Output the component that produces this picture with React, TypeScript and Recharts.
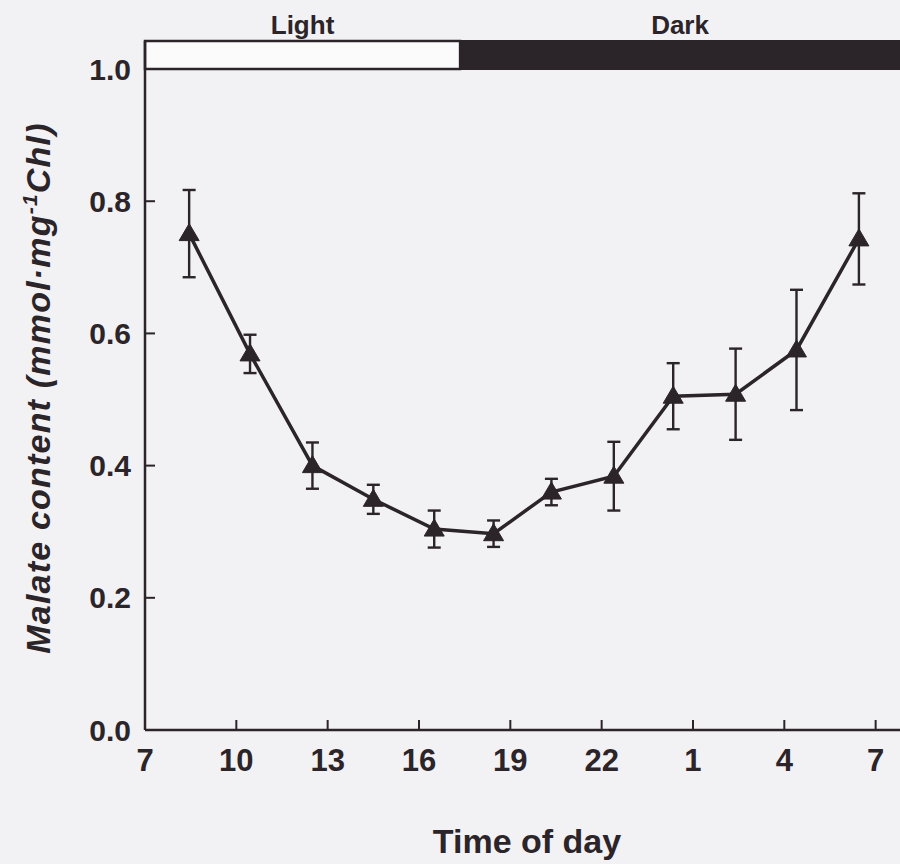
import React from 'react';
import { LineChart, Line, XAxis, YAxis, ErrorBar, ReferenceArea, Label } from 'recharts';

// Time of day (hours; values past 24 are the following morning)
const hours = [8.45, 10.45, 12.5, 14.5, 16.5, 18.45, 20.35, 22.4, 24.35, 26.4, 28.4, 30.45];
// Malate content (mmol·mg-1 Chl)
const malate = [0.751, 0.569, 0.4, 0.349, 0.304, 0.297, 0.36, 0.384, 0.505, 0.508, 0.575, 0.743];
// Error (±)
const errors = [0.066, 0.029, 0.035, 0.022, 0.028, 0.02, 0.02, 0.052, 0.05, 0.069, 0.091, 0.069];

const xTicks = [7, 10, 13, 16, 19, 22, 25, 28, 31];
const yTicks = [0, 0.2, 0.4, 0.6, 0.8, 1.0];
const rightTicks = [0.2, 0.4, 0.6, 0.8];

const xStart = 7;
const darkStart = 17.35;
const xEnd = 31.8;
const barBottom = 1.0;
const barTop = 1.0424;

const INK = '#2b2428';
const BG = '#f2f1f3';
const FONT = '"Liberation Sans", Arial, Helvetica, sans-serif';

const data = hours.map((h, i) => ({ hour: h, malate: malate[i], err: errors[i] }));

const Triangle = (props: any) => {
  const { cx, cy, index } = props;
  if (cx == null || cy == null) return <g key={`t-${index}`} />;
  const d = `M ${cx} ${cy - 10} L ${cx + 10} ${cy + 7} L ${cx - 10} ${cy + 7} Z`;
  return <path key={`t-${index}`} d={d} fill={INK} stroke={INK} strokeWidth={1} />;
};

const YTitle = () => {
  const cx = 50;
  const cy = 388;
  return (
    <text
      x={cx}
      y={cy}
      transform={`rotate(-90 ${cx} ${cy})`}
      textAnchor="middle"
      fill={INK}
      fontSize={34}
      letterSpacing={1.2}
      fontWeight="bold"
      fontStyle="italic"
      fontFamily={FONT}
    >
      Malate content (mmol·mg
      <tspan dy={-13} fontSize={21}>-1</tspan>
      <tspan dy={13} fontSize={34}>Chl)</tspan>
    </text>
  );
};

const XTitle = () => (
  <text x={527} y={853} textAnchor="middle" fill={INK} fontSize={34} fontWeight="bold" fontFamily={FONT}>
    Time of day
  </text>
);

export default function App() {
  return (
    <div style={{ position: 'fixed', left: 0, top: 0, width: 900, height: 864, overflow: 'hidden', background: BG }}>
      <LineChart width={900} height={864} data={data} margin={{ top: 41, right: 0, bottom: 0, left: 0 }}>
        <XAxis
          dataKey="hour"
          type="number"
          domain={[xStart, xEnd]}
          allowDataOverflow
          ticks={xTicks}
          interval={0}
          tickFormatter={(v: number) => String(v > 24 ? v - 24 : v)}
          height={134}
          tickSize={-10}
          tickMargin={29}
          axisLine={{ stroke: INK, strokeWidth: 2.5 }}
          tickLine={{ stroke: INK, strokeWidth: 2 }}
          tick={{ fill: INK, fontSize: 31, fontWeight: 'bold', fontFamily: FONT }}
        >
          <Label content={<XTitle />} />
        </XAxis>
        <YAxis
          type="number"
          domain={[0, barTop]}
          allowDataOverflow
          ticks={yTicks}
          interval={0}
          tickFormatter={(v: number) => v.toFixed(1)}
          width={145}
          tickSize={-10}
          tickMargin={24}
          axisLine={{ stroke: INK, strokeWidth: 2.5 }}
          tickLine={{ stroke: INK, strokeWidth: 2 }}
          tick={{ fill: INK, fontSize: 30, fontWeight: 'bold', fontFamily: FONT }}
        >
          <Label content={<YTitle />} />
        </YAxis>
        <YAxis
          yAxisId="r"
          orientation="right"
          type="number"
          domain={[0, barTop]}
          allowDataOverflow
          ticks={rightTicks}
          interval={0}
          width={0}
          tickSize={-8}
          axisLine={false}
          tick={false}
          tickLine={{ stroke: INK, strokeWidth: 2 }}
        />
        <ReferenceArea
          x1={xStart}
          x2={darkStart}
          y1={barBottom}
          y2={barTop}
          fill="#fbfbfb"
          fillOpacity={1}
          stroke={INK}
          strokeWidth={2.5}
          label={{ value: 'Light', position: 'top', offset: 7, fill: INK, fontSize: 26, fontWeight: 'bold', fontFamily: FONT }}
        />
        <ReferenceArea
          x1={darkStart}
          x2={xEnd}
          y1={barBottom}
          y2={barTop}
          fill={INK}
          fillOpacity={1}
          stroke={INK}
          strokeWidth={2}
          label={{ value: 'Dark', position: 'top', offset: 7, fill: INK, fontSize: 26, fontWeight: 'bold', fontFamily: FONT }}
        />
        <Line
          dataKey="malate"
          stroke={INK}
          strokeWidth={3.5}
          dot={Triangle}
          activeDot={false}
          isAnimationActive={false}
        >
          <ErrorBar dataKey="err" width={6.5} stroke={INK} strokeWidth={2.4} direction="y" isAnimationActive={false} />
        </Line>
      </LineChart>
    </div>
  );
}
